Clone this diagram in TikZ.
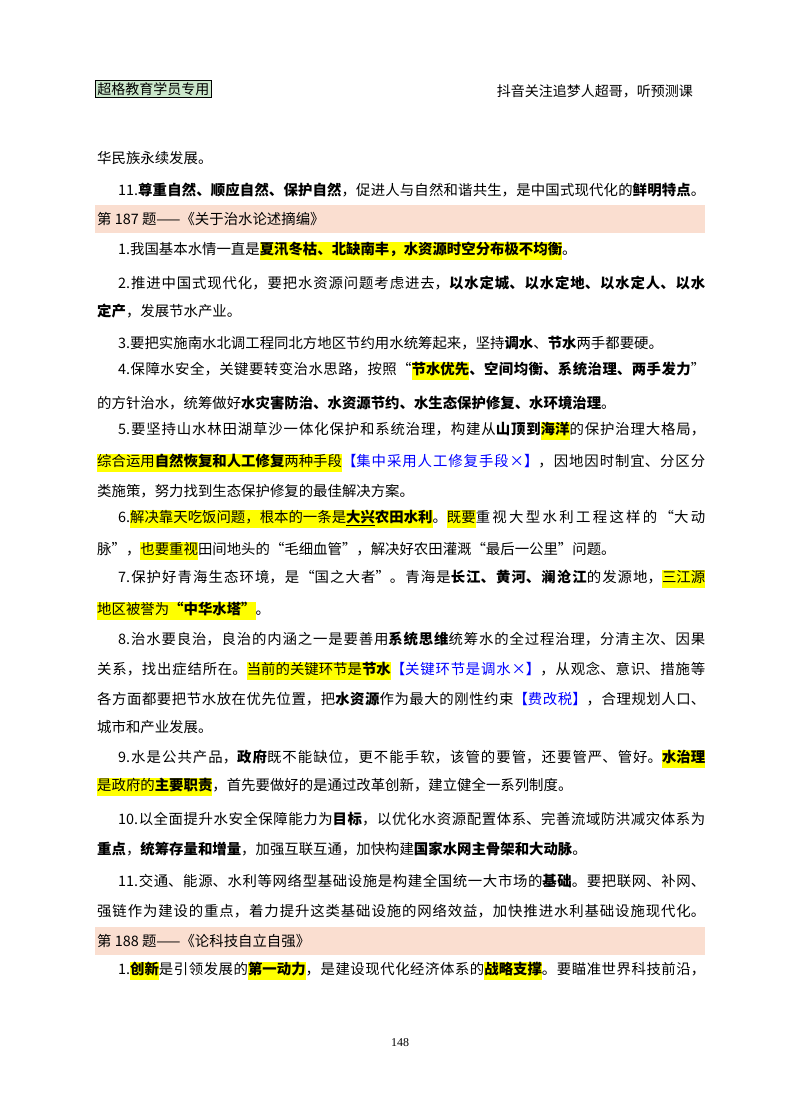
\documentclass[tikz,border=0pt]{standalone}
\usepackage{fontspec}
\setmainfont{Noto Sans CJK SC}
\newfontfamily\numfont{Liberation Serif}
\XeTeXlinebreaklocale "zh"
\XeTeXlinebreakskip=0pt plus 3pt minus 1.5pt
\definecolor{band}{RGB}{250,222,208}
\definecolor{hdr}{RGB}{204,232,204}
\definecolor{hy}{RGB}{255,255,0}
\newcommand\hl[1]{{\setlength\fboxsep{0pt}\colorbox{hy}{\strut #1}}}
\newcommand\hlb[1]{\hl{\textbf{#1}}}
\newcommand\blu[1]{{\color{blue}#1}}
\tikzset{ln/.style={anchor=west,inner sep=0pt,font=\fontsize{14.4}{18}\selectfont}}
\newcommand\full[4]{\node[ln] (#1) at (#2,#3) {\parbox{\dimexpr705pt-#2pt\relax}{\parindent0pt\parfillskip0pt\hbadness10000 #4}};}
\newcommand\pl[4]{\node[ln] (#1) at (#2,#3) {#4};}
\begin{document}
\begin{tikzpicture}[x=1pt,y=-1pt]
\useasboundingbox (0,0) rectangle (800,1114);
\node[draw,thick,fill=hdr,inner sep=2pt,anchor=west,font=\fontsize{14}{16}\selectfont] (hdrL) at (95,89) {超格教育学员专用};
\node[anchor=east,inner sep=0pt,font=\fontsize{14}{16}\selectfont] (hdrR) at (693,91) {抖音关注追梦人超哥，听预测课};
\pl{a1}{97}{158}{华民族永续发展。}
\full{a2}{118}{190}{11.\textbf{尊重自然、顺应自然、保护自然}，促进人与自然和谐共生，是中国式现代化的\textbf{鲜明特点}。}
\fill[band] (95,205) rectangle (705,233);
\pl{b1}{97}{219}{第 187 题——《关于治水论述摘编》}
\pl{a3}{118}{251}{1.我国基本水情一直是\hlb{夏汛冬枯、北缺南丰，水资源时空分布极不均衡}。}
\full{a4}{118}{283}{2.推进中国式现代化，要把水资源问题考虑进去，\textbf{以水定城、以水定地、以水定人、以水}}
\pl{a5}{97}{311}{\textbf{定产}，发展节水产业。}
\pl{a6}{118}{343}{3.要把实施南水北调工程同北方地区节约用水统筹起来，坚持\textbf{调水}、\textbf{节水}两手都要硬。}
\full{a7}{118}{371}{4.保障水安全，关键要转变治水思路，按照“\hlb{节水优先}\textbf{、空间均衡、系统治理、两手发力}”}
\pl{a8}{97}{403}{的方针治水，统筹做好\textbf{水灾害防治、水资源节约、水生态保护修复、水环境治理}。}
\full{a9}{118}{431}{5.要坚持山水林田湖草沙一体化保护和系统治理，构建从\textbf{山顶到}\hlb{海洋}的保护治理大格局，}
\full{a10}{97}{463}{\hl{综合运用\textbf{自然恢复和人工修复}两种手段}\blu{【集中采用人工修复手段×】}，因地因时制宜、分区分}
\pl{a11}{97}{491}{类施策，努力找到生态保护修复的最佳解决方案。}
\full{a12}{118}{519}{6.\hl{解决靠天吃饭问题，根本的一条是\textbf{\underline{大兴}农田水利}}。\hl{既要}重视大型水利工程这样的“大动}
\pl{a13}{97}{551}{脉”，\hl{也要重视}田间地头的“毛细血管”，解决好农田灌溉“最后一公里”问题。}
\full{a14}{118}{579}{7.保护好青海生态环境，是“国之大者”。青海是\textbf{长江、黄河、澜沧江}的发源地，\hl{三江源}}
\pl{a15}{97}{611}{\hl{地区被誉为\textbf{“中华水塔”}}。}
\full{a16}{118}{639}{8.治水要良治，良治的内涵之一是要善用\textbf{系统思维}统筹水的全过程治理，分清主次、因果}
\full{a17}{97}{671}{关系，找出症结所在。\hl{当前的关键环节是\textbf{节水}}\blu{【关键环节是调水×】}，从观念、意识、措施等}
\full{a18}{97}{699}{各方面都要把节水放在优先位置，把\textbf{水资源}作为最大的刚性约束\blu{【费改税】}，合理规划人口、}
\pl{a19}{97}{727}{城市和产业发展。}
\full{a20}{118}{759}{9.水是公共产品，\textbf{政府}既不能缺位，更不能手软，该管的要管，还要管严、管好。\hlb{水治理}}
\pl{a21}{97}{787}{\hl{是政府的\textbf{主要职责}}，首先要做好的是通过改革创新，建立健全一系列制度。}
\full{a22}{118}{819}{10.以全面提升水安全保障能力为\textbf{目标}，以优化水资源配置体系、完善流域防洪减灾体系为}
\pl{a23}{97}{849}{\textbf{重点}，\textbf{统筹存量和增量}，加强互联互通，加快构建\textbf{国家水网主骨架和大动脉}。}
\full{a24}{118}{881}{11.交通、能源、水利等网络型基础设施是构建全国统一大市场的\textbf{基础}。要把联网、补网、}
\full{a25}{97}{911}{强链作为建设的重点，着力提升这类基础设施的网络效益，加快推进水利基础设施现代化。}
\fill[band] (95,927) rectangle (705,955);
\pl{b2}{97}{941}{第 188 题——《论科技自立自强》}
\full{a26}{118}{971}{1.\hlb{创新}是引领发展的\hlb{第一动力}，是建设现代化经济体系的\hlb{战略支撑}。要瞄准世界科技前沿，}
\node[inner sep=0pt,font=\numfont\fontsize{12}{14}\selectfont] (pg) at (400,1043) {148};
\end{tikzpicture}
\end{document}
